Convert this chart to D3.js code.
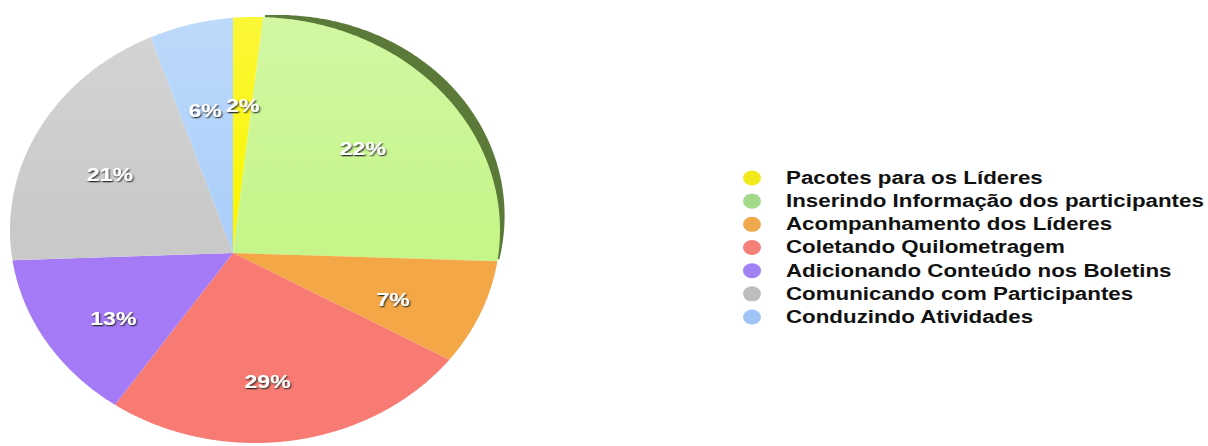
<!DOCTYPE html>
<html>
<head>
<meta charset="utf-8">
<script src="https://cdn.jsdelivr.net/npm/d3@7"></script>
<style>
  body { margin: 0; background: #fff; }
  svg { display: block; }
</style>
</head>
<body>
<div id="chart"></div>
<script>
var categories = ['Pacotes para os Líderes', 'Inserindo Informação dos participantes', 'Acompanhamento dos Líderes',
  'Coletando Quilometragem', 'Adicionando Conteúdo nos Boletins', 'Comunicando com Participantes', 'Conduzindo Atividades']
var values = [2, 22, 7, 29, 13, 21, 6]
var sliceColors = ['#fbf500', '#c6f58a', '#f3a746', '#f77b72', '#a47af6', '#c9c9c9', '#abcffa']
var legendColors = ['#f3ea1e', '#a2d98a', '#f0a84e', '#f58079', '#a381f5', '#bebebe', '#9fc4f7']

var W = 1208, H = 446
// pie seen in perspective: apex is off the ellipse centre
var apex = [233, 253]
var ell = { cx: 255, cy: 230, rx: 245, ry: 213 }
var skew = 2.7 * Math.PI / 180 // angular distortion of the tilted disc

var svg = d3.select('#chart').append('svg')
  .attr('width', W).attr('height', H)

var defs = svg.append('defs')
var f = defs.append('filter').attr('id', 'txtshadow')
  .attr('x', '-20%').attr('y', '-30%').attr('width', '140%').attr('height', '160%')
f.append('feDropShadow').attr('dx', 0.8).attr('dy', 1.3).attr('stdDeviation', 0.7)
  .attr('flood-color', '#222').attr('flood-opacity', 0.9)

var gloss = defs.append('linearGradient').attr('id', 'gloss')
  .attr('x1', 0).attr('y1', 0).attr('x2', 0).attr('y2', 1)
gloss.append('stop').attr('offset', '0%').attr('stop-color', '#fff').attr('stop-opacity', 0.22)
gloss.append('stop').attr('offset', '50%').attr('stop-color', '#fff').attr('stop-opacity', 0)

function warp (a) { return a + skew * (1 - Math.cos(2 * a)) }

// distance from apex to ellipse edge along angle a (clockwise from 12 o'clock)
function rayLen (a) {
  var dx = Math.sin(a), dy = -Math.cos(a)
  var px = (apex[0] - ell.cx) / ell.rx, py = (apex[1] - ell.cy) / ell.ry
  var qx = dx / ell.rx, qy = dy / ell.ry
  var A = qx * qx + qy * qy, B = 2 * (px * qx + py * qy), C = px * px + py * py - 1
  return (-B + Math.sqrt(B * B - 4 * A * C)) / (2 * A)
}
function edgePoint (a, k) {
  var w = warp(a)
  var t = rayLen(w) * (k || 1)
  return [apex[0] + t * Math.sin(w), apex[1] - t * Math.cos(w)]
}

var pie = d3.pie().sort(null).value(function (d) { return d })
var arcs = pie(values)
var line = d3.line()

function slicePath (d, bulge) {
  var pts = [apex.slice()]
  var n = Math.max(4, Math.ceil((d.endAngle - d.startAngle) / 0.01))
  for (var i = 0; i <= n; i++) {
    var k = 1 + (bulge || 0) * Math.sin(Math.PI * i / n)
    pts.push(edgePoint(d.startAngle + (d.endAngle - d.startAngle) * i / n, k))
  }
  return line(pts) + 'Z'
}

var g = svg.append('g')

// dark side of the lifted green slice
g.append('path')
  .attr('d', slicePath(arcs[1], 0.032))
  .attr('transform', 'translate(2,-2)')
  .attr('fill', '#5b7a3a')

g.selectAll('path.slice').data(arcs).enter().append('path')
  .attr('class', 'slice')
  .attr('d', function (d) { return slicePath(d) })
  .attr('fill', function (d, i) { return sliceColors[i] })

g.append('ellipse')
  .attr('cx', ell.cx).attr('cy', ell.cy).attr('rx', ell.rx).attr('ry', ell.ry)
  .attr('fill', 'url(#gloss)')

// percent labels
var labelK = 0.65
g.selectAll('text.pct').data(arcs).enter().append('text')
  .attr('class', 'pct')
  .attr('transform', function (d) {
    var mid = (d.startAngle + d.endAngle) / 2
    var p = edgePoint(mid, labelK)
    return 'translate(' + p[0] + ',' + (p[1] + 6) + ') scale(1.28,1)'
  })
  .attr('text-anchor', 'middle')
  .attr('dy', '0.36em')
  .attr('fill', '#fff')
  .attr('filter', 'url(#txtshadow)')
  .style('font-family', '"Liberation Sans", Arial, sans-serif')
  .style('font-weight', 'bold')
  .style('font-size', '18px')
  .text(function (d) { return d.data + '%' })

// legend
var legY = d3.scalePoint().domain(d3.range(categories.length)).range([178, 317])
var leg = svg.append('g')
leg.selectAll('ellipse').data(categories).enter().append('ellipse')
  .attr('cx', 752)
  .attr('cy', function (d, i) { return legY(i) })
  .attr('rx', 9).attr('ry', 7.5)
  .attr('fill', function (d, i) { return legendColors[i] })

var legText = leg.append('g').attr('class', 'legtext')
legText.selectAll('text').data(categories).enter().append('text')
  .attr('x', 0)
  .attr('y', function (d, i) { return legY(i) + 6 })
  .style('font-family', '"Liberation Sans", Arial, sans-serif')
  .style('font-weight', 'bold')
  .style('font-size', '17.5px')
  .attr('fill', '#111')
  .text(function (d) { return d })

var widest = d3.max(legText.selectAll('text').nodes(), function (n) { return n.getComputedTextLength() })
var sx = 418 / widest
legText.attr('transform', 'translate(786,0) scale(' + sx + ',1)')
</script>
</body>
</html>
